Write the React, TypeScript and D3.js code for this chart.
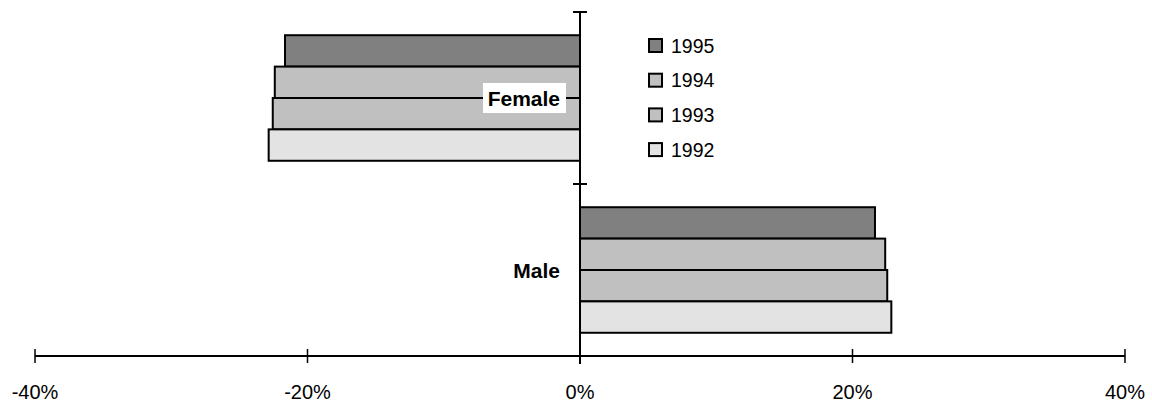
import React from 'react';
import * as d3 from 'd3';

// values (share of population, %)
const categories = ['Female', 'Male'];
const years = ['1995', '1994', '1993', '1992'];
const femaleValues = [-21.65, -22.4, -22.55, -22.85];
const maleValues = [21.65, 22.4, 22.55, 22.85];
const xTicks = [-40, -20, 0, 20, 40];
const yearColors = ['#808080', '#C0C0C0', '#C0C0C0', '#E3E3E3'];

const seriesByCategory: Record<string, number[]> = {
    Female: femaleValues,
    Male: maleValues,
};

const width = 1152;
const height = 403;
const font = 'Arial, "Liberation Sans", sans-serif';

const App: React.FC = () => {
    const x = d3.scaleLinear().domain([-40, 40]).range([35, 1125]);
    const y0 = d3.scaleBand<string>().domain(categories).range([12, 356]);
    const y1 = d3.scaleBand<string>()
        .domain(years)
        .range([0, y0.bandwidth()])
        .paddingInner(0)
        .paddingOuter(0.74);
    const color = d3.scaleOrdinal<string>().domain(years).range(yearColors);

    const axisY = y0.range()[1];
    const zeroX = x(0);

    return (
        <svg width={width} height={height} style={{ position: 'absolute', left: 0, top: 0 }}>
            <rect width={width} height={height} fill="#fff" />

            {/* bars */}
            {categories.map(cat => (
                <g key={cat} transform={`translate(0,${y0(cat)})`}>
                    {years.map((yr, i) => {
                        const v = seriesByCategory[cat][i];
                        const x0 = Math.min(x(0), x(v));
                        const w = Math.abs(x(v) - x(0));
                        return (
                            <rect
                                key={yr}
                                x={x0}
                                y={y1(yr)}
                                width={w}
                                height={y1.bandwidth()}
                                fill={color(yr)}
                                stroke="#000"
                                strokeWidth={2}
                            />
                        );
                    })}
                </g>
            ))}

            {/* vertical category axis */}
            <line x1={zeroX} x2={zeroX} y1={y0.range()[0]} y2={axisY + 8} stroke="#000" strokeWidth={2} />
            {categories.map(cat => (
                <line
                    key={cat}
                    x1={zeroX - 7}
                    x2={zeroX + 7}
                    y1={y0(cat)}
                    y2={y0(cat)}
                    stroke="#000"
                    strokeWidth={2}
                />
            ))}

            {/* category labels */}
            {categories.map(cat => {
                const cy = (y0(cat) ?? 0) + y0.bandwidth() / 2;
                return (
                    <g key={cat}>
                        {cat === 'Female' && (
                            <rect x={483} y={cy - 15} width={83} height={30} fill="#fff" />
                        )}
                        <text
                            x={zeroX - 20}
                            y={cy}
                            dy="0.36em"
                            textAnchor="end"
                            fontFamily={font}
                            fontWeight="bold"
                            fontSize={21}
                        >
                            {cat}
                        </text>
                    </g>
                );
            })}

            {/* horizontal value axis */}
            <line x1={x(-40)} x2={x(40)} y1={axisY} y2={axisY} stroke="#000" strokeWidth={2} />
            {xTicks.map(t => (
                <g key={t}>
                    <line x1={x(t)} x2={x(t)} y1={axisY - 7} y2={axisY + 7} stroke="#000" strokeWidth={1.5} />
                    <text
                        x={x(t)}
                        y={399}
                        textAnchor="middle"
                        fontFamily={font}
                        fontSize={20}
                    >
                        {`${t}%`}
                    </text>
                </g>
            ))}

            {/* legend */}
            {years.map((yr, i) => {
                const ly = 45.5 + i * 34.7;
                return (
                    <g key={yr}>
                        <rect x={649} y={ly - 6.5} width={13} height={13} fill={color(yr)} stroke="#000" strokeWidth={2} />
                        <text x={671} y={ly} dy="0.36em" fontFamily={font} fontSize={19.5}>
                            {yr}
                        </text>
                    </g>
                );
            })}
        </svg>
    );
};

export default App;
